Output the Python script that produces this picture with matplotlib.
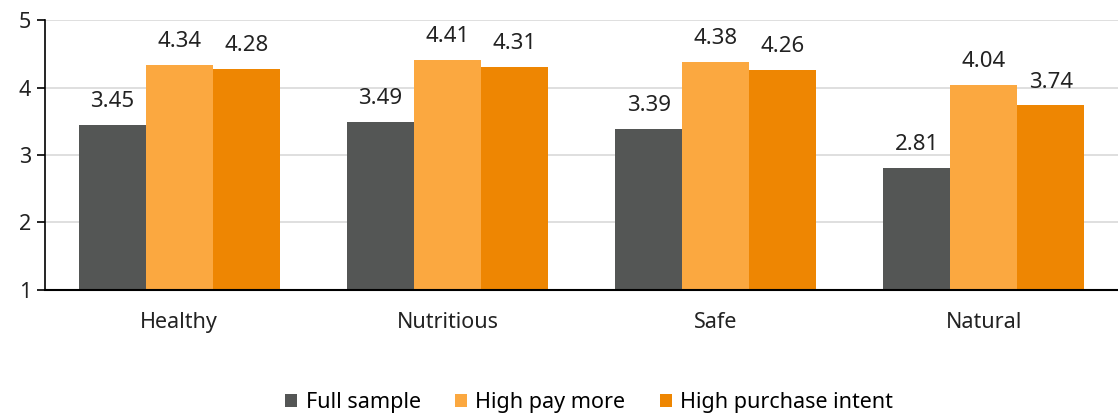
import matplotlib.pyplot as plt
import numpy as np

# Ratings by attribute for each consumer group
categories = ["Healthy", "Nutritious", "Safe", "Natural"]
full_sample = [3.45, 3.49, 3.39, 2.81]
high_pay_more = [4.34, 4.41, 4.38, 4.04]
high_purchase_intent = [4.28, 4.31, 4.26, 3.74]

series = [
    ("Full sample", full_sample, "#545655"),
    ("High pay more", high_pay_more, "#FBA840"),
    ("High purchase intent", high_purchase_intent, "#EE8602"),
]

plt.rcParams["font.family"] = ["Noto Sans", "DejaVu Sans"]

fig = plt.figure(figsize=(11.18, 4.17), dpi=100)
ax = fig.add_axes([0.0403, 0.3046, 0.9597, 0.6474])

x = np.arange(len(categories))
width = 0.25

for i, (name, vals, color) in enumerate(series):
    pos = x + (i - 1) * width
    bars = ax.bar(pos, np.array(vals) - 1, width, bottom=1, color=color, label=name, zorder=2)
    for b, v in zip(bars, vals):
        ax.annotate(f"{v:.2f}", (b.get_x() + b.get_width() / 2, v),
                    xytext=(0, 9), textcoords="offset points",
                    ha="center", va="bottom", fontsize=16, color="#222222")

ax.set_ylim(1, 5)
ax.set_xlim(-0.5, len(categories) - 0.5)
ax.set_yticks([1, 2, 3, 4, 5])
ax.set_xticks(x)
ax.set_xticklabels(categories)
ax.tick_params(axis="x", length=0, pad=16, labelsize=15.5, labelcolor="#222222")
ax.tick_params(axis="y", length=6, width=1.2, labelsize=15.5, labelcolor="#222222", pad=4)

ax.yaxis.grid(True, color="#d9d9d9", linewidth=1.2, zorder=0)
ax.set_axisbelow(True)
for side in ["top", "right"]:
    ax.spines[side].set_visible(False)
ax.spines["left"].set_linewidth(1.2)
ax.spines["bottom"].set_linewidth(1.5)

fig.legend(loc="center", bbox_to_anchor=(0.527, 0.035), ncol=3, frameon=False,
           fontsize=15.5, handlelength=0.55, handleheight=0.55, handletextpad=0.4,
           columnspacing=1.6)

fig.savefig("out.png", dpi=100)
